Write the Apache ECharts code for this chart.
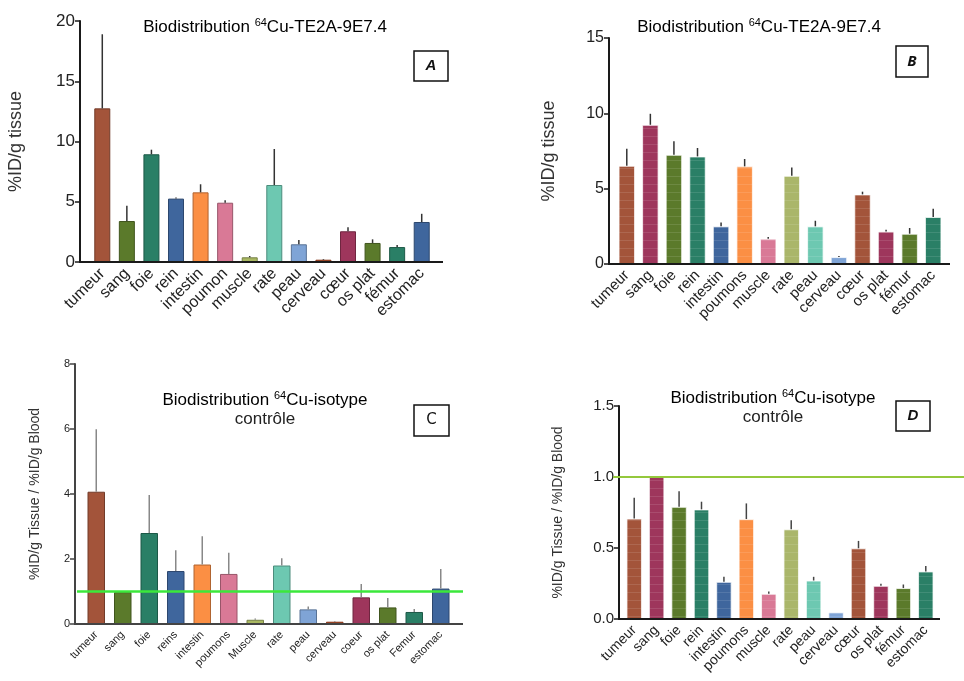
<!DOCTYPE html>
<html><head><meta charset="utf-8">
<script src="https://cdn.jsdelivr.net/npm/echarts@6/dist/echarts.min.js"></script>
<style>html,body{margin:0;padding:0;background:#fff}#c{width:964px;height:681px}</style>
</head><body><div id="c"></div>
<script>
// ---- data ----
const catsA = ['tumeur','sang','foie','rein','intestin','poumon','muscle','rate','peau','cerveau','cœur','os plat','fémur','estomac'];
const valsA = [12.75, 3.4, 8.94, 5.26, 5.78, 4.92, 0.39, 6.39, 1.47, 0.19, 2.55, 1.58, 1.24, 3.32];
const errA  = [18.9, 4.67, 9.32, 5.35, 6.45, 5.12, 0.5, 9.38, 1.83, 0.25, 2.88, 1.88, 1.41, 4.0];

const catsB = ['tumeur','sang','foie','rein','intestin','poumons','muscle','rate','peau','cerveau','cœur','os plat','fémur','estomac'];
const valsB = [6.52, 9.24, 7.25, 7.14, 2.5, 6.48, 1.68, 5.86, 2.5, 0.46, 4.62, 2.16, 2.01, 3.12];
const errB  = [7.65, 9.97, 8.14, 7.7, 2.76, 6.97, 1.79, 6.41, 2.87, 0.53, 4.8, 2.28, 2.39, 3.67];

const catsC = ['tumeur','sang','foie','reins','intestin','poumons','Muscle','rate','peau','cerveau','coeur','os plat','Femur','estomac'];
const valsC = [4.07, 0.98, 2.8, 1.63, 1.83, 1.54, 0.13, 1.8, 0.45, 0.07, 0.82, 0.51, 0.37, 1.09];
const errC  = [5.99, 0.98, 3.97, 2.27, 2.7, 2.19, 0.17, 2.02, 0.54, 0.09, 1.23, 0.8, 0.46, 1.69];

const catsD = ['tumeur','sang','foie','rein','intestin','poumons','muscle','rate','peau','cerveau','cœur','os plat','fémur','estomac'];
const valsD = [0.707, 1.0, 0.79, 0.772, 0.262, 0.704, 0.178, 0.632, 0.271, 0.047, 0.498, 0.234, 0.218, 0.335];
const errD  = [0.854, 1.0, 0.9, 0.826, 0.297, 0.814, 0.194, 0.695, 0.297, 0.047, 0.55, 0.248, 0.243, 0.374];

const refLineC = [1];
const refLineD = [1];

const colorsAC = ['#a3543a','#5b7a2b','#2a7f66','#3f669d','#fb8f44','#d97996','#a9b862','#6dc8b1','#7fa4d6','#b8461c','#9e365c','#5b7a2b','#2a7f66','#3f669d'];
const colorsBD = ['#a3543a','#9e365c','#5b7a2b','#2a7f66','#3f669d','#fb8f44','#d97996','#aab66a','#6dc8b1','#7fa4d6','#a3543a','#9e365c','#5b7a2b','#2a7f66'];

// ---- helpers ----
const FONT = "'Liberation Sans', Arial, sans-serif";
function darken(hex, f){
  const n = parseInt(hex.slice(1),16);
  const r = Math.round(((n>>16)&255)*f), g = Math.round(((n>>8)&255)*f), b = Math.round((n&255)*f);
  return 'rgb('+r+','+g+','+b+')';
}
const panels = [
  {cats:catsA, vals:valsA, err:errA, colors:colorsAC, grid:{left:90,top:21,width:344,height:241}, off:10, ext:9, max:20, interval:5, dec:0,
   tickFont:17, catFont:16, nameFont:18, name:'%ID/g tissue', nameGap:55, axisColor:'#1a1a1a', errColor:'#333', barW:16, border:'dark', decal:false},
  {cats:catsB, vals:valsB, err:errB, colors:colorsBD, grid:{left:615,top:38,width:330,height:226}, off:6, ext:5, max:15, interval:5, dec:0,
   tickFont:16, catFont:15, nameFont:18, name:'%ID/g tissue', nameGap:51, axisColor:'#1a1a1a', errColor:'#333', barW:16.5, border:'light', decal:true},
  {cats:catsC, vals:valsC, err:errC, colors:colorsAC, grid:{left:83,top:364,width:371,height:260}, off:8, ext:9, max:8, interval:2, dec:0,
   tickFont:11, catFont:11, nameFont:14, name:'%ID/g Tissue / %ID/g Blood', nameGap:33, axisColor:'#444', errColor:'#888', barW:17.5, border:'dark', decal:false},
  {cats:catsD, vals:valsD, err:errD, colors:colorsBD, grid:{left:623,top:406,width:314,height:213}, off:4, ext:3, max:1.5, interval:0.5, dec:1,
   tickFont:15, catFont:14, nameFont:14, name:'%ID/g Tissue / %ID/g Blood', nameGap:54, axisColor:'#1a1a1a', errColor:'#444', barW:15.5, border:'light', decal:true}
];

const grids = [], xAxes = [], yAxes = [], series = [];
panels.forEach((p, i) => {
  grids.push(Object.assign({containLabel:false}, p.grid));
  xAxes.push({type:'category', gridIndex:i, data:p.cats,
    axisLine:{lineStyle:{color:p.axisColor, width:2}},
    axisTick:{alignWithLabel:true, length:6, lineStyle:{color:p.axisColor, width:1.5}},
    axisLabel:{rotate:45, fontSize:p.catFont, color:'#222', fontFamily:FONT, margin:9, interval:0}
  });
  yAxes.push({type:'value', gridIndex:i, min:0, max:p.max, interval:p.interval, offset:p.off,
    name:p.name, nameLocation:'middle', nameGap:p.nameGap, nameRotate:90,
    nameTextStyle:{fontSize:p.nameFont, color:'#333', fontFamily:FONT},
    axisLine:{show:true, lineStyle:{color:p.axisColor, width:2}},
    axisTick:{show:true, length:5, lineStyle:{color:p.axisColor, width:1.5}},
    axisLabel:{fontSize:p.tickFont, color:'#222', fontFamily:FONT, margin:5, formatter:v => v.toFixed(p.dec)},
    splitLine:{show:false}
  });
  series.push({type:'bar', xAxisIndex:i, yAxisIndex:i, barWidth:p.barW,
    data:p.vals.map((v,k)=>({value:v, itemStyle:{color:p.colors[k],
      borderColor: p.border==='dark' ? darken(p.colors[k],0.7) : 'rgba(255,255,255,0.45)', borderWidth:1,
      decal: p.decal ? {symbol:'rect', symbolSize:1, color:'rgba(255,255,255,0.11)', dashArrayX:[1,0], dashArrayY:[1,7], rotation:0} : undefined
    }})),
    z:2
  });
  series.push({type:'custom', xAxisIndex:i, yAxisIndex:i, z:3,
    data:p.vals.map((v,k)=>[k, v, p.err[k]]),
    encode:{x:0, y:[1,2]},
    renderItem:(params, api)=>{
      const a = api.coord([api.value(0), api.value(1)]);
      const b = api.coord([api.value(0), api.value(2)]);
      return {type:'line', shape:{x1:a[0], y1:a[1], x2:a[0], y2:b[1]}, style:{stroke:p.errColor, lineWidth:1.5}};
    }
  });
  // extend the baseline to meet the offset y axis (axis decoration)
  series.push({type:'custom', xAxisIndex:i, yAxisIndex:i, z:5, silent:true, data:[[0,0]], encode:{x:0,y:1},
    renderItem:(params, api)=>{
      const cs = params.coordSys; const y = api.coord([0, 0])[1];
      return {type:'line', shape:{x1:cs.x-p.off-1, y1:y, x2:cs.x+cs.width+p.ext, y2:y}, style:{stroke:p.axisColor, lineWidth:2}};
    }});
});
// reference lines
series.push({type:'custom', xAxisIndex:2, yAxisIndex:2, z:4, data:refLineC.map(v=>[0,v]), encode:{x:0,y:1},
  renderItem:(params, api)=>{
    const cs = params.coordSys; const y = api.coord([0, api.value(1)])[1];
    return {type:'line', shape:{x1:cs.x-6, y1:y, x2:cs.x+cs.width+9, y2:y}, style:{stroke:'#3be83b', lineWidth:2.5}};
  }});
series.push({type:'custom', xAxisIndex:3, yAxisIndex:3, z:4, data:refLineD.map(v=>[0,v]), encode:{x:0,y:1},
  renderItem:(params, api)=>{
    const cs = params.coordSys; const y = api.coord([0, api.value(1)])[1];
    return {type:'line', shape:{x1:cs.x-10, y1:y, x2:api.getWidth(), y2:y}, style:{stroke:'#94c83c', lineWidth:2}};
  }});

const rich = {n:{fontSize:17, fontFamily:FONT, color:'#222'}, s:{fontSize:11, fontFamily:FONT, color:'#222', padding:[0,0,9,0]}};
function titleText(x, y, text){
  return {type:'text', x:x, y:y, style:{text:text, rich:rich, align:'center', verticalAlign:'middle'}, z:10};
}
function plainText(x, y, text){
  return {type:'text', x:x, y:y, style:{text:text, fontSize:17, fontFamily:FONT, fill:'#222', align:'center', verticalAlign:'middle'}, z:10};
}
function box(x, y, w, h, letter, italic, bold, family){
  return {type:'group', x:x, y:y, z:10, children:[
    {type:'rect', shape:{x:0, y:0, width:w, height:h}, style:{fill:'#fff', stroke:'#111', lineWidth:1.5}},
    {type:'text', x:w/2, y:h/2, style:{text:letter, fontSize:15, fontStyle:italic?'italic':'normal', fontWeight:bold?'bold':'normal', fontFamily:family, fill:'#111', align:'center', verticalAlign:'middle'}}
  ]};
}

const option = {
  animation:false,
  backgroundColor:'#fff',
  grid:grids, xAxis:xAxes, yAxis:yAxes, series:series,
  graphic:[
    titleText(265, 27, '{n|Biodistribution }{s|64}{n|Cu-TE2A-9E7.4}'),
    titleText(759, 27, '{n|Biodistribution }{s|64}{n|Cu-TE2A-9E7.4}'),
    titleText(265, 400, '{n|Biodistribution }{s|64}{n|Cu-isotype}'),
    plainText(265, 419, 'contrôle'),
    titleText(773, 398, '{n|Biodistribution }{s|64}{n|Cu-isotype}'),
    plainText(773, 417, 'contrôle'),
    box(414, 51, 34, 30, 'A', true, true, FONT),
    box(896, 46, 32, 31, 'B', true, true, "'Open Sans', sans-serif"),
    box(414, 405, 35, 31, 'C', false, false, "'DejaVu Sans', sans-serif"),
    box(896, 401, 34, 30, 'D', true, true, FONT)
  ]
};
const chart = echarts.init(document.getElementById('c'), null, {renderer:'canvas'});
chart.setOption(option);
</script></body></html>
